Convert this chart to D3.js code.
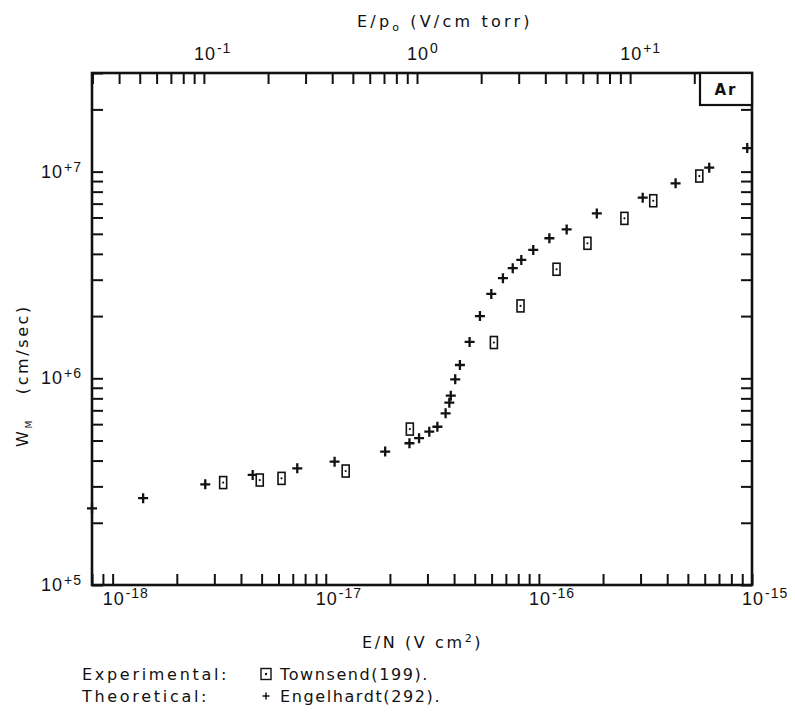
<!DOCTYPE html>
<html>
<head>
<meta charset="utf-8">
<script src="https://cdn.jsdelivr.net/npm/d3@7"></script>
<style>
  html, body { margin: 0; padding: 0; background: #fff; }
  svg { display: block; font-family: 'DejaVu Sans', sans-serif; }
</style>
</head>
<body>
<div id="chart"></div>
<script>
// E/N (V cm^2) and drift velocity W_M (cm/sec)
const townsendEN = [3.3e-18, 4.9e-18, 6.2e-18, 1.24e-17, 2.48e-17, 6.15e-17, 8.2e-17, 1.21e-16, 1.69e-16, 2.52e-16, 3.44e-16, 5.66e-16]
const townsendW = [3.13e5, 3.22e5, 3.28e5, 3.56e5, 5.68e5, 1.49e6, 2.24e6, 3.37e6, 4.5e6, 5.94e6, 7.23e6, 9.52e6]

const engelhardtEN = [8.0e-19, 1.39e-18, 2.72e-18, 4.54e-18, 7.35e-18, 1.1e-17, 1.9e-17, 2.47e-17, 2.74e-17, 3.06e-17,
    3.34e-17, 3.65e-17, 3.8e-17, 3.86e-17, 4.05e-17, 4.26e-17, 4.73e-17, 5.29e-17, 5.98e-17, 6.78e-17,
    7.54e-17, 8.27e-17, 9.41e-17, 1.12e-16, 1.35e-16, 1.87e-16, 3.07e-16, 4.38e-16, 6.3e-16, 9.5e-16]
const engelhardtW = [2.35e5, 2.63e5, 3.07e5, 3.41e5, 3.67e5, 3.95e5, 4.42e5, 4.85e5, 5.13e5, 5.52e5,
    5.83e5, 6.77e5, 7.62e5, 8.24e5, 9.89e5, 1.16e6, 1.5e6, 2.0e6, 2.56e6, 3.05e6,
    3.41e6, 3.74e6, 4.18e6, 4.76e6, 5.25e6, 6.28e6, 7.48e6, 8.78e6, 1.045e7, 1.3e7]

const xLabelValues = [1e-18, 1e-17, 1e-16, 1e-15]
const xLabelExps = ['-18', '-17', '-16', '-15']
const yLabelValues = [1e5, 1e6, 1e7]
const yLabelExps = ['+5', '+6', '+7']
const topLabelValues = [0.1, 1, 10]
const topLabelExps = ['-1', '0', '+1']

// E/p0 = (E/N) / factor
const epFactor = 2.68e-17

const width = 795
const height = 714
const plot = { left: 92, right: 752, top: 73, bottom: 585 }
const tickLen = 11

const x = d3.scaleLog().domain([8e-19, 1e-15]).range([plot.left, plot.right])
const y = d3.scaleLog().domain([1e5, 3e7]).range([plot.bottom, plot.top])
const xTop = d3.scaleLog()
    .domain(x.domain().map((d) => d / epFactor))
    .range([plot.left, plot.right])

const svg = d3.select('#chart')
    .append('svg')
    .attr('width', width)
    .attr('height', height)

const ink = '#111'

// axes with inward ticks
const axisStyle = (g) => {
    g.select('.domain').remove()
    g.selectAll('.tick line').attr('stroke', ink).attr('stroke-width', 2)
}

svg.append('g')
    .attr('transform', `translate(0, ${plot.bottom})`)
    .call(d3.axisBottom(x).tickValues(x.ticks()).tickSize(-tickLen).tickFormat(''))
    .call(axisStyle)

svg.append('g')
    .attr('transform', `translate(0, ${plot.top})`)
    .call(d3.axisTop(xTop).tickValues(xTop.ticks()).tickSize(-tickLen).tickFormat(''))
    .call(axisStyle)

svg.append('g')
    .attr('transform', `translate(${plot.left}, 0)`)
    .call(d3.axisLeft(y).tickValues(y.ticks()).tickSize(-tickLen).tickFormat(''))
    .call(axisStyle)

svg.append('g')
    .attr('transform', `translate(${plot.right}, 0)`)
    .call(d3.axisRight(y).tickValues(y.ticks()).tickSize(-tickLen).tickFormat(''))
    .call(axisStyle)

// frame
svg.append('rect')
    .attr('x', plot.left)
    .attr('y', plot.top)
    .attr('width', plot.right - plot.left)
    .attr('height', plot.bottom - plot.top)
    .attr('fill', 'none')
    .attr('stroke', ink)
    .attr('stroke-width', 2.6)

// power-of-ten labels
const powerLabel = (sel, base, exp, supDy) => {
    sel.style('font-family', "'Liberation Sans', sans-serif")
        .style('letter-spacing', '1px')
    sel.append('tspan').text('10').style('font-size', '18px')
    sel.append('tspan').text(exp).attr('dy', supDy).attr('dx', 1).style('font-size', '14px')
}

xLabelValues.forEach((v, i) => {
    const t = svg.append('text')
        .attr('x', x(v) - 10)
        .attr('y', 605)
        .attr('fill', ink)
    powerLabel(t, '10', xLabelExps[i], -7)
})

topLabelValues.forEach((v, i) => {
    const t = svg.append('text')
        .attr('x', xTop(v) - 10)
        .attr('y', 60)
        .attr('fill', ink)
    powerLabel(t, '10', topLabelExps[i], -7)
})

yLabelValues.forEach((v, i) => {
    const t = svg.append('text')
        .attr('x', 41)
        .attr('y', y(v) + 6)
        .attr('fill', ink)
    powerLabel(t, '10', yLabelExps[i], -6)
})

// Ar box
svg.append('rect')
    .attr('x', 700)
    .attr('y', plot.top)
    .attr('width', plot.right - 700)
    .attr('height', 32)
    .attr('fill', '#fff')
    .attr('stroke', ink)
    .attr('stroke-width', 2.2)
svg.append('text')
    .attr('x', 726)
    .attr('y', 95)
    .attr('text-anchor', 'middle')
    .attr('fill', ink)
    .style('font-size', '15px')
    .style('font-weight', 'bold')
    .style('letter-spacing', '2px')
    .text('Ar')

// markers
const plus = (g, s) =>
    g.append('path')
        .attr('d', `M${-s},0H${s}M0,${-s}V${s}`)
        .attr('stroke', ink)
        .attr('stroke-width', 2.3)
        .attr('fill', 'none')

const box = (g) => {
    g.append('rect')
        .attr('x', -3.5)
        .attr('y', -6)
        .attr('width', 7)
        .attr('height', 12)
        .attr('fill', '#fff')
        .attr('stroke', ink)
        .attr('stroke-width', 1.6)
    g.append('circle').attr('r', 1.1).attr('fill', ink)
}

const engel = svg.append('g').attr('class', 'engelhardt')
engelhardtEN.forEach((v, i) => {
    const g = engel.append('g').attr('transform', `translate(${x(v)}, ${y(engelhardtW[i])})`)
    plus(g, 5)
})

const towns = svg.append('g').attr('class', 'townsend')
townsendEN.forEach((v, i) => {
    const g = towns.append('g').attr('transform', `translate(${x(v)}, ${y(townsendW[i])})`)
    box(g)
})

// titles
const title = svg.append('text')
    .attr('x', 357)
    .attr('y', 27)
    .attr('fill', ink)
    .style('font-size', '16px')
    .style('letter-spacing', '3.2px')
title.append('tspan').text('E/p')
title.append('tspan').text('o').attr('dy', 4).style('font-size', '11px')
title.append('tspan').text('(V/cm torr)').attr('dy', -4).attr('dx', 8)

const xTitle = svg.append('text')
    .attr('x', 362)
    .attr('y', 648)
    .attr('fill', ink)
    .style('font-size', '16px')
    .style('letter-spacing', '2.6px')
xTitle.append('tspan').text('E/N (V cm')
xTitle.append('tspan').text('2').attr('dy', -6).style('font-size', '11px')
xTitle.append('tspan').text(')').attr('dy', 6)

const yTitle = svg.append('text')
    .attr('transform', 'translate(28, 447) rotate(-90)')
    .attr('fill', ink)
    .style('font-size', '16px')
    .style('letter-spacing', '2.6px')
yTitle.append('tspan').text('W')
yTitle.append('tspan').text('M').attr('dy', 4).style('font-size', '9px')
yTitle.append('tspan').text('(cm/sec)').attr('dy', -4).attr('dx', 24)

// legend
const legendRows = [
    { label: 'Experimental:', name: 'Townsend(199).', y: 680, marker: 'box' },
    { label: 'Theoretical:', name: 'Engelhardt(292).', y: 702, marker: 'plus' },
]
legendRows.forEach((r) => {
    svg.append('text')
        .attr('x', 82)
        .attr('y', r.y)
        .attr('fill', ink)
        .style('font-size', '16px')
        .style('letter-spacing', '2.7px')
        .text(r.label)
    const g = svg.append('g').attr('transform', `translate(266, ${r.y - 6})`)
    if (r.marker === 'box') {
        g.append('rect').attr('x', -5).attr('y', -5.5).attr('width', 10).attr('height', 11)
            .attr('fill', 'none').attr('stroke', ink).attr('stroke-width', 1.4)
        g.append('circle').attr('r', 1.2).attr('fill', ink)
    } else {
        plus(g, 3.5).attr('stroke-width', 1.5)
    }
    svg.append('text')
        .attr('x', 280)
        .attr('y', r.y)
        .attr('fill', ink)
        .style('font-size', '16px')
        .style('letter-spacing', '1.6px')
        .text(r.name)
})
</script>
</body>
</html>
